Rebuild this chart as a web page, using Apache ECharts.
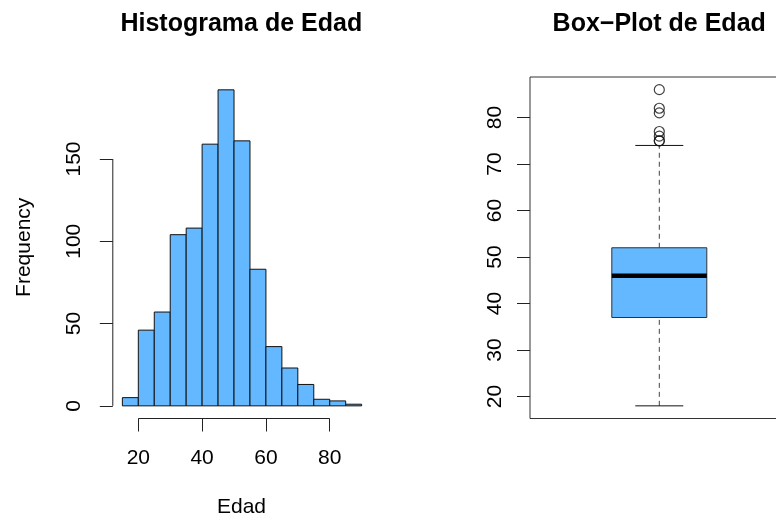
<!DOCTYPE html>
<html>
<head>
<meta charset="utf-8">
<script src="https://cdn.jsdelivr.net/npm/echarts@6/dist/echarts.min.js"></script>
<style>html,body{margin:0;padding:0;background:#fff;}#c{width:776px;height:517px;}</style>
</head>
<body>
<div id="c"></div>
<script>
// ---- data ----
const breaks = [15, 20, 25, 30, 35, 40, 45, 50, 55, 60, 65, 70, 75, 80, 85, 90];
const counts = [5, 46, 57, 104, 108, 159, 192, 161, 83, 36, 23, 13, 4, 3, 1];
const histXTicks = [20, 40, 60, 80];
const histYTicks = [0, 50, 100, 150];
const boxStats = [18, 37, 46, 52, 74]; // lower whisker, Q1, median, Q3, upper whisker
const outliers = [75, 75, 76, 77, 81, 82, 86];
const boxYTicks = [20, 30, 40, 50, 60, 70, 80];
const histTitle = 'Histograma de Edad';
const boxTitle = 'Box\u2212Plot de Edad';
const xName = 'Edad';
const yName = 'Frequency';

// ---- R-style 4% axis extension ----
function ext(lo, hi) { const d = (hi - lo) * 0.04; return [lo - d, hi + d]; }
const hx = ext(breaks[0], breaks[breaks.length - 1]);
const hy = ext(0, Math.max.apply(null, counts));
const allBox = boxStats.concat(outliers);
const by = ext(Math.min.apply(null, allBox), Math.max.apply(null, allBox));

const FONT = 'Liberation Sans, Arial, sans-serif';
const AX = '#222';
const FILL = '#63B8FF';

const histData = counts.map((c, i) => [breaks[i], breaks[i + 1], c]);

const chart = echarts.init(document.getElementById('c'), null, { renderer: 'canvas' });
chart.setOption({
  animation: false,
  backgroundColor: '#fff',
  grid: [
    { left: 112.8, top: 77.2, width: 258.4, height: 341.3, outerBoundsMode: 'none', containLabel: false },
    { left: 530, top: 77, width: 258.6, height: 341.5, outerBoundsMode: 'none', containLabel: false,
      show: true, borderColor: '#333', borderWidth: 1, backgroundColor: 'transparent' }
  ],
  xAxis: [
    { type: 'value', gridIndex: 0, min: hx[0], max: hx[1], splitLine: { show: false },
      axisLine: { show: false, onZero: false },
      axisTick: { show: true, length: 13, lineStyle: { color: AX }, customValues: histXTicks },
      axisLabel: { show: true, margin: 29, fontSize: 21, fontFamily: FONT, color: '#000', customValues: histXTicks } },
    { type: 'value', gridIndex: 1, min: 0.5, max: 1.5, show: false, splitLine: { show: false } }
  ],
  yAxis: [
    { type: 'value', gridIndex: 0, min: hy[0], max: hy[1], splitLine: { show: false },
      axisLine: { show: false, onZero: false },
      axisTick: { show: true, length: 13, lineStyle: { color: AX }, customValues: histYTicks },
      axisLabel: { show: true, rotate: 90, margin: 28, fontSize: 21, fontFamily: FONT, color: '#000', customValues: histYTicks } },
    { type: 'value', gridIndex: 1, min: by[0], max: by[1], splitLine: { show: false },
      axisLine: { show: false, onZero: false },
      axisTick: { show: true, length: 13, lineStyle: { color: AX }, customValues: boxYTicks },
      axisLabel: { show: true, rotate: 90, margin: 24, fontSize: 21, fontFamily: FONT, color: '#000', customValues: boxYTicks } }
  ],
  graphic: [
    { type: 'text', x: 241.3, y: 24.3, style: { text: histTitle, font: 'bold 25px ' + FONT, fill: '#000', textAlign: 'center', textVerticalAlign: 'middle' } },
    { type: 'text', x: 659.2, y: 24.3, style: { text: boxTitle, font: 'bold 25px ' + FONT, fill: '#000', textAlign: 'center', textVerticalAlign: 'middle' } },
    { type: 'text', x: 241.5, y: 507.5, style: { text: xName, font: '21px ' + FONT, fill: '#000', textAlign: 'center', textVerticalAlign: 'middle' } },
    { type: 'text', x: 24.2, y: 247.3, rotation: Math.PI / 2, style: { text: yName, font: '21px ' + FONT, fill: '#000', textAlign: 'center', textVerticalAlign: 'middle' } }
  ],
  series: [
    { type: 'custom', xAxisIndex: 0, yAxisIndex: 0, data: histData, silent: true,
      renderItem: function (params, api) {
        const p0 = api.coord([api.value(0), 0]);
        const p1 = api.coord([api.value(1), api.value(2)]);
        return { type: 'rect', shape: { x: p0[0], y: p1[1], width: p1[0] - p0[0], height: p0[1] - p1[1] },
                 style: { fill: FILL, stroke: '#111', lineWidth: 1 } };
      } },
    // partial R-style axis lines
    { type: 'line', xAxisIndex: 0, yAxisIndex: 0, silent: true, symbol: 'none', clip: false,
      data: [[histXTicks[0], hy[0]], [histXTicks[histXTicks.length - 1], hy[0]]],
      lineStyle: { color: AX, width: 1 } },
    { type: 'line', xAxisIndex: 0, yAxisIndex: 0, silent: true, symbol: 'none', clip: false,
      data: [[hx[0], histYTicks[0]], [hx[0], histYTicks[histYTicks.length - 1]]],
      lineStyle: { color: AX, width: 1 } },
    // box plot
    { type: 'custom', xAxisIndex: 1, yAxisIndex: 1, silent: true, clip: false,
      data: [[1].concat(boxStats)],
      renderItem: function (params, api) {
        const cx = api.coord([api.value(0), 0])[0];
        const y = [1, 2, 3, 4, 5].map(i => api.coord([1, api.value(i)])[1]);
        const hw = 47.5, cw = 24;
        const dash = { stroke: '#444', lineWidth: 1, lineDash: [5, 4] };
        const solid = { stroke: '#111', lineWidth: 1 };
        return { type: 'group', children: [
          { type: 'line', shape: { x1: cx, y1: y[0], x2: cx, y2: y[1] }, style: dash },
          { type: 'line', shape: { x1: cx, y1: y[3], x2: cx, y2: y[4] }, style: dash },
          { type: 'line', shape: { x1: cx - cw, y1: y[0], x2: cx + cw, y2: y[0] }, style: solid },
          { type: 'line', shape: { x1: cx - cw, y1: y[4], x2: cx + cw, y2: y[4] }, style: solid },
          { type: 'rect', shape: { x: cx - hw, y: y[3], width: 2 * hw, height: y[1] - y[3] }, style: { fill: FILL, stroke: '#333', lineWidth: 1 } },
          { type: 'line', shape: { x1: cx - hw, y1: y[2], x2: cx + hw, y2: y[2] }, style: { stroke: '#000', lineWidth: 4.5 } }
        ] };
      } },
    { type: 'scatter', xAxisIndex: 1, yAxisIndex: 1, silent: true, symbol: 'circle', symbolSize: 10,
      data: outliers.map(v => [1, v]),
      itemStyle: { color: 'rgba(0,0,0,0)', borderColor: '#111', borderWidth: 1.2 } }
  ]
});
</script>
</body>
</html>
